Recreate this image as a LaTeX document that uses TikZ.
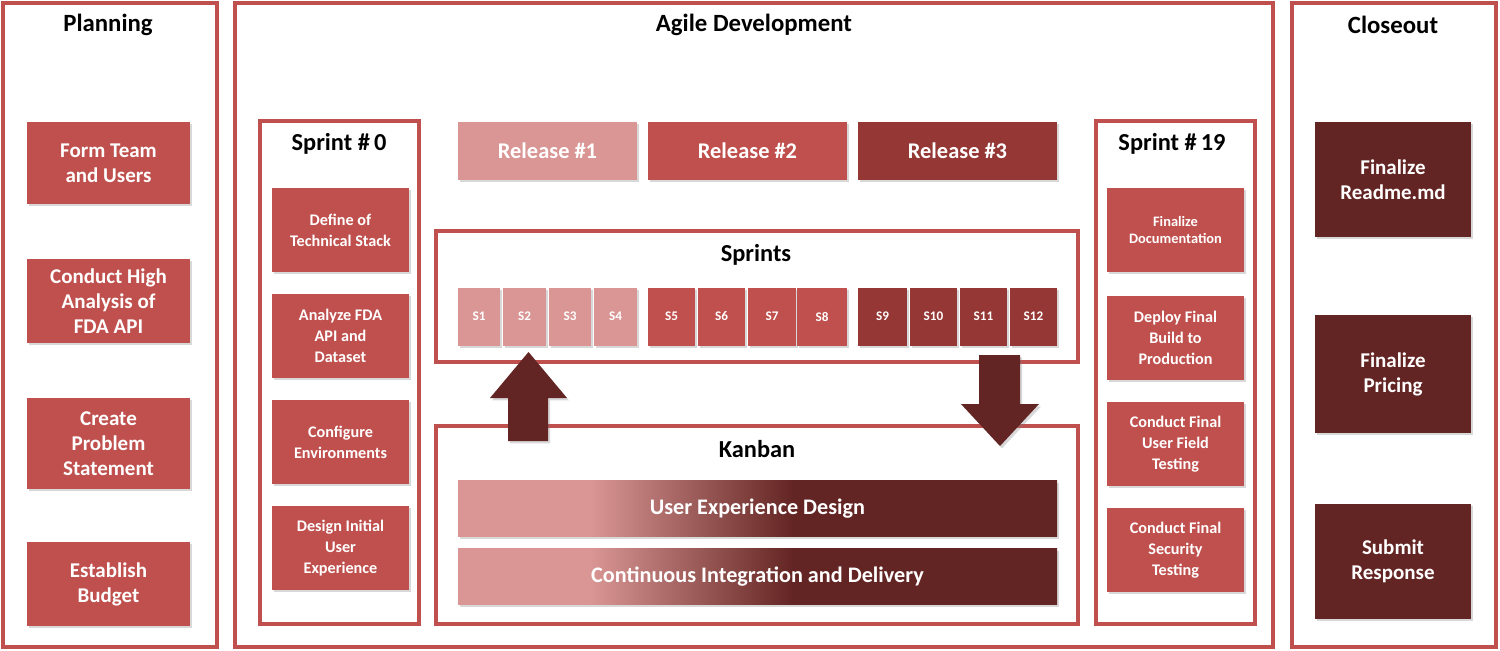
\documentclass[tikz,border=0pt]{standalone}
\usepackage{fontspec}
\setmainfont{Carlito}
\usetikzlibrary{shadows}
\definecolor{redA}{HTML}{C0504D}
\definecolor{redL}{HTML}{D99694}
\definecolor{redD}{HTML}{953735}
\definecolor{redX}{HTML}{632523}
\pgfdeclarehorizontalshading{kgrad}{100bp}{color(0bp)=(redL); color(36bp)=(redL); color(53bp)=(redX); color(100bp)=(redX)}
\tikzset{
  panel/.style={draw=redA, line width=1.6pt, fill=white},
  ptitle/.style={font=\bfseries\fontsize{12.4}{14}\selectfont, text=black},
  stitle/.style={font=\bfseries\fontsize{12.2}{14}\selectfont, text=black},
  shad/.style={drop shadow={opacity=0.3, shadow xshift=1pt, shadow yshift=-1.2pt}},
  bigbox/.style={shad, fill=redA, text=white, align=center, inner sep=0pt, font=\bfseries\fontsize{10.5}{12.5}\selectfont, minimum width=81.5pt},
  closebox/.style={bigbox, fill=redX, minimum width=78pt},
  smallbox/.style={shad, fill=redA, text=white, align=center, inner sep=0pt, font=\bfseries\fontsize{8.1}{10.5}\selectfont, minimum width=68.5pt, minimum height=42pt},
  relbox/.style={shad, text=white, inner sep=0pt, font=\bfseries\fontsize{11.2}{12}\selectfont, minimum height=29pt},
  sbox/.style={shad, text=white, inner sep=0pt, font=\bfseries\fontsize{6.6}{7}\selectfont, minimum height=29pt},
  kbar/.style={shad, shading=kgrad, text=white, inner sep=0pt, font=\bfseries\fontsize{11.1}{12}\selectfont, minimum width=299.5pt, minimum height=28pt},
  blockarrow/.style={fill=redX, shad}
}
\begin{document}
\begin{tikzpicture}[x=0.5pt,y=-0.5pt]
\useasboundingbox (0,0) rectangle (1500,650);
% main panels
\draw[panel] (3,3) rectangle (217,647);
\draw[panel] (235,3) rectangle (1273,647);
\draw[panel] (1292,3) rectangle (1496,647);
\node[ptitle] (tplan) at (108,25) {Planning};
\node[ptitle] (tagile) at (754,25) {Agile Development};
\node[ptitle] (tclose) at (1393,25) {Closeout};

% Planning boxes
\node[bigbox, minimum height=41pt] (p1) at (108.5,163) {Form Team\\and Users};
\node[bigbox, minimum height=42pt] (p2) at (108.5,301) {Conduct High\\Analysis of\\FDA API};
\node[bigbox, minimum height=45.5pt] (p3) at (108.5,443.5) {Create\\Problem\\Statement};
\node[bigbox, minimum height=42pt] (p4) at (108.5,584) {Establish\\Budget};

% Closeout boxes
\node[closebox, minimum height=57.5pt] (c1) at (1393,179.5) {Finalize\\Readme.md};
\node[closebox, minimum height=59pt] (c2) at (1393,374) {Finalize\\Pricing};
\node[closebox, minimum height=57.5pt] (c3) at (1393,561.5) {Submit\\Response};

% Sprint 0
\draw[panel] (260,121) rectangle (419,624);
\node[stitle] (ts0) at (339,144) {Sprint \#\,0};
\node[smallbox] (a1) at (340.5,230) {Define of\\Technical Stack};
\node[smallbox] (a2) at (340.5,336) {Analyze FDA\\API and\\Dataset};
\node[smallbox] (a3) at (340.5,442) {Configure\\Environments};
\node[smallbox] (a4) at (340.5,548) {Design Initial\\User\\Experience};

% Sprint 19
\draw[panel] (1096,121) rectangle (1255,624);
\node[stitle] (ts19) at (1172,144) {Sprint \#\,19};
\node[smallbox, font=\bfseries\fontsize{7.2}{8.6}\selectfont] (b1) at (1175.5,230) {Finalize\\Documentation};
\node[smallbox] (b2) at (1175.5,338) {Deploy Final\\Build to\\Production};
\node[smallbox] (b3) at (1175.5,444) {Conduct Final\\User Field\\Testing};
\node[smallbox] (b4) at (1175.5,550) {Conduct Final\\Security\\Testing};

% Releases
\node[relbox, fill=redL, minimum width=89.5pt] (r1) at (547.5,151) {Release \#1};
\node[relbox, fill=redA, minimum width=99.5pt] (r2) at (747.5,151) {Release \#2};
\node[relbox, fill=redD, minimum width=99.5pt] (r3) at (957.5,151) {Release \#3};

% Sprints panel
\draw[panel] (436,231) rectangle (1078,362);
\node[stitle] (tsp) at (756,255) {Sprints};
\node[sbox, fill=redL, minimum width=21pt] (s1) at (479,316.5) {S1};
\node[sbox, fill=redL, minimum width=21.5pt] (s2) at (524.5,316.5) {S2};
\node[sbox, fill=redL, minimum width=21pt] (s3) at (570,316.5) {S3};
\node[sbox, fill=redL, minimum width=21.5pt] (s4) at (615.5,316.5) {S4};
\node[sbox, fill=redA, minimum width=23.5pt] (s5) at (671.5,316.5) {S5};
\node[sbox, fill=redA, minimum width=23.5pt] (s6) at (721.5,316.5) {S6};
\node[sbox, fill=redA, minimum width=24pt] (s7) at (772,316.5) {S7};
\node[sbox, fill=redA, minimum width=25pt] (s8) at (822,316.5) {S8};
\node[sbox, fill=redD, minimum width=24.5pt] (s9) at (882.5,316.5) {S9};
\node[sbox, fill=redD, minimum width=23.5pt] (s10) at (933.5,316.5) {S10};
\node[sbox, fill=redD, minimum width=23.5pt] (s11) at (983.5,316.5) {S11};
\node[sbox, fill=redD, minimum width=23.5pt] (s12) at (1033.5,316.5) {S12};

% Kanban panel
\draw[panel] (436,426) rectangle (1078,624);
\node[stitle] (tkb) at (757,449) {Kanban};
\node[kbar] (k1) at (757.5,508.5) {User Experience Design};
\node[kbar] (k2) at (757.5,576.5) {Continuous Integration and Delivery};

% block arrows
\fill[blockarrow] (508,441) -- (508,398) -- (490,398) -- (528.5,352) -- (567,398) -- (548,398) -- (548,441) -- cycle;
\fill[blockarrow] (979,355) -- (1020,355) -- (1020,404) -- (1039,404) -- (1000,446) -- (961,404) -- (979,404) -- cycle;
\end{tikzpicture}
\end{document}
